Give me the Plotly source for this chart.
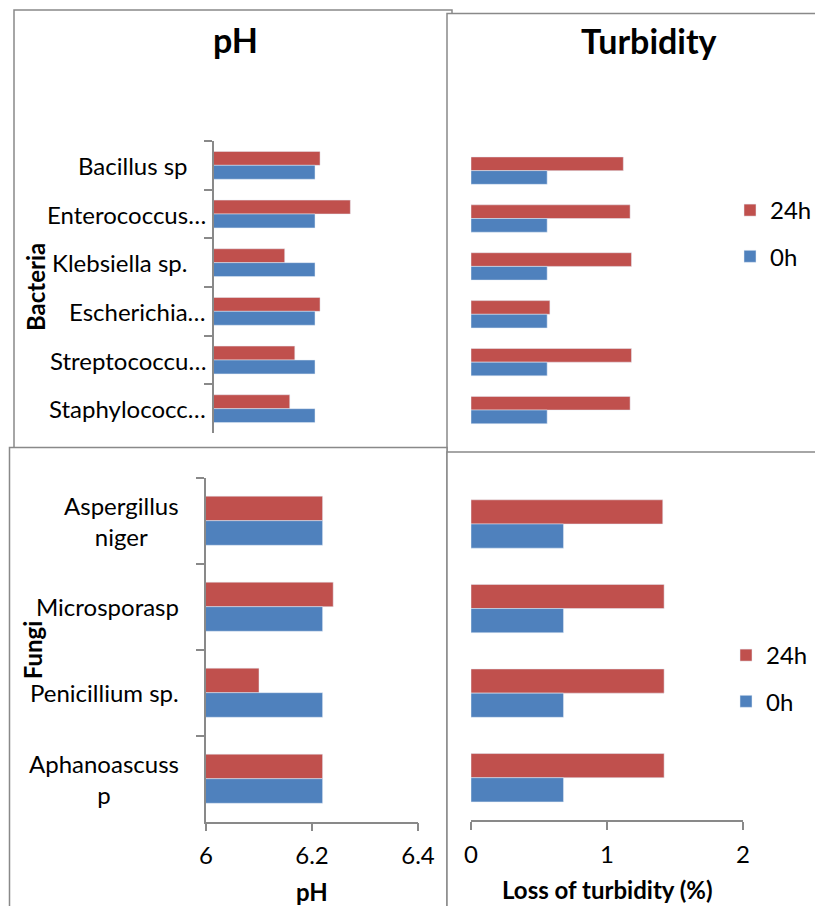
import plotly.graph_objects as go

# ---- data -------------------------------------------------------------
bacteria = ["Bacillus sp\u00a0\u00a0\u00a0", "Enterococcus…", "Klebsiella sp.\u00a0\u00a0\u00a0",
            "Escherichia…", "Streptococcu…", "Staphylococc…"]
bact_ph_0h = [6.20, 6.20, 6.20, 6.20, 6.20, 6.20]
bact_ph_24h = [6.21, 6.27, 6.14, 6.21, 6.16, 6.15]
bact_turb_0h = [0.56, 0.56, 0.56, 0.56, 0.56, 0.56]
bact_turb_24h = [1.12, 1.17, 1.18, 0.58, 1.18, 1.17]

fungi = ["Aspergillus<br>niger", "Microsporasp", "Penicillium sp.", "Aphanoascuss<br>p"]
fungi_ph_0h = [6.22, 6.22, 6.22, 6.22]
fungi_ph_24h = [6.22, 6.24, 6.10, 6.22]
fungi_turb_0h = [0.68, 0.68, 0.68, 0.68]
fungi_turb_24h = [1.41, 1.42, 1.42, 1.42]

ph_ticks = [6, 6.2, 6.4]
turb_ticks = [0, 1, 2]

# ---- styling ----------------------------------------------------------
W, H = 815, 906
RED, BLUE = "#C0504D", "#4F81BD"
GREY = "#898989"
FONT = "Lato"
FS = 24


def px(x):
    return x / W


def py(y):
    return 1 - y / H


fig = go.Figure()


def add_pair(cats, v24, v0, xa, ya, legend=None):
    show = legend is not None
    fig.add_trace(go.Bar(y=cats, x=v24, name="24h", orientation="h", marker_color=RED,
                         xaxis=xa, yaxis=ya, showlegend=show, legend=legend,
                         legendgroup=f"{legend}24", hoverinfo="x"))
    fig.add_trace(go.Bar(y=cats, x=v0, name="0h", orientation="h", marker_color=BLUE,
                         xaxis=xa, yaxis=ya, showlegend=show, legend=legend,
                         legendgroup=f"{legend}0", hoverinfo="x"))


add_pair(bacteria, bact_ph_24h, bact_ph_0h, "x", "y")
add_pair(bacteria, bact_turb_24h, bact_turb_0h, "x2", "y2", "legend")
add_pair(fungi, fungi_ph_24h, fungi_ph_0h, "x3", "y3")
add_pair(fungi, fungi_turb_24h, fungi_turb_0h, "x4", "y4", "legend2")

tickfont = dict(family=FONT, size=FS, color="#000")

cat_axis_line = dict(type="category", autorange="reversed", showline=True, linecolor=GREY,
                     linewidth=1.5, ticks="outside", tickson="boundaries", ticklen=8,
                     tickcolor=GREY, tickwidth=1.5, showticklabels=False, showgrid=False,
                     zeroline=False, fixedrange=True)
cat_axis_plain = dict(type="category", autorange="reversed", showline=False, ticks="",
                      showticklabels=False, showgrid=False, zeroline=False, fixedrange=True)
val_axis_line = dict(showline=True, linecolor=GREY, linewidth=1.5, ticks="outside", ticklen=8,
                     tickcolor=GREY, tickwidth=1.5, tickfont=tickfont, ticklabelstandoff=4,
                     showgrid=False, zeroline=False, fixedrange=True)

legend_style = dict(xanchor="left", yanchor="top", traceorder="grouped", tracegroupgap=12,
                    font=dict(family=FONT, size=FS), bgcolor="rgba(0,0,0,0)",
                    itemclick=False, itemdoubleclick=False)

fig.update_layout(
    width=W, height=H, autosize=False,
    # legends sit near the right edge; keep them from widening the margins
    margin=dict(l=0, r=0, t=0, b=0, autoexpand=False),
    paper_bgcolor="white", plot_bgcolor="rgba(0,0,0,0)",
    barmode="group", bargap=0.4286, bargroupgap=0,
    font=dict(family=FONT, size=FS, color="#000"),
    xaxis=dict(domain=[px(214), px(416)], range=[6, 6.4], visible=False, fixedrange=True),
    yaxis=dict(domain=[py(433), py(141)], anchor="x", **cat_axis_line),
    xaxis2=dict(domain=[px(471), px(743)], range=[0, 2], anchor="y2", visible=False, fixedrange=True),
    yaxis2=dict(domain=[py(434), py(146.7)], anchor="x2", **cat_axis_plain),
    xaxis3=dict(domain=[px(206), px(418)], range=[6, 6.4], anchor="y3",
                tickvals=ph_ticks, ticktext=["6", "6.2", "6.4"], **val_axis_line),
    yaxis3=dict(domain=[py(821.7), py(477.7)], anchor="x3", **cat_axis_line),
    xaxis4=dict(domain=[px(471), px(743)], range=[0, 2], anchor="y4",
                tickvals=turb_ticks, **val_axis_line),
    yaxis4=dict(domain=[py(820), py(481.7)], anchor="x4", **cat_axis_plain),
    legend=dict(x=px(730), y=py(188), **legend_style),
    legend2=dict(x=px(726), y=py(633), **legend_style),
)

# panel frames, later ones overlap earlier ones
frames = [(14, 10, 452, 470), (447, 13.5, 830, 470), (9.5, 447.5, 447, 930), (447, 452, 830, 930)]
for x0, y0, x1, y1 in frames:
    fig.add_shape(type="rect", xref="paper", yref="paper", layer="below",
                  x0=px(x0), x1=px(x1), y0=py(y1), y1=py(y0),
                  line=dict(color=GREY, width=1.5), fillcolor="white")

ann = []
# category labels
for c in bacteria:
    ann.append(dict(text=c, x=px(208), xref="paper", xanchor="right", y=c, yref="y",
                    showarrow=False, font=tickfont))
for c in fungi:
    ann.append(dict(text=c, x=px(181), xref="paper", xanchor="right", y=c, yref="y3",
                    showarrow=False, align="center", font=tickfont))

bold = dict(family=FONT, size=FS, color="#000", weight="bold")
title_font = dict(family=FONT, size=34, color="#000", weight="bold")
ann += [
    dict(text="pH", x=px(235), y=py(39), xref="paper", yref="paper", showarrow=False,
         xanchor="center", yanchor="middle", font=title_font),
    dict(text="Turbidity", x=px(648.5), y=py(40), xref="paper", yref="paper", showarrow=False,
         xanchor="center", yanchor="middle", font=title_font),
    dict(text="Bacteria", x=px(35), y=0.5, xref="paper", yref="y domain", textangle=-90,
         showarrow=False, xanchor="center", yanchor="middle", font=bold),
    dict(text="Fungi", x=px(32.5), y=0.5, xref="paper", yref="y3 domain", textangle=-90,
         showarrow=False, xanchor="center", yanchor="middle", font=bold),
    dict(text="pH", x=0.5, y=py(891), xref="x3 domain", yref="paper", showarrow=False,
         xanchor="center", yanchor="middle", font=bold),
    dict(text="Loss of turbidity (%)", x=0.5, y=py(889), xref="x4 domain", yref="paper",
         showarrow=False, xanchor="center", yanchor="middle", font=bold),
]
fig.update_layout(annotations=ann)

fig.write_html("out.html", config={"displayModeBar": False, "responsive": False})
